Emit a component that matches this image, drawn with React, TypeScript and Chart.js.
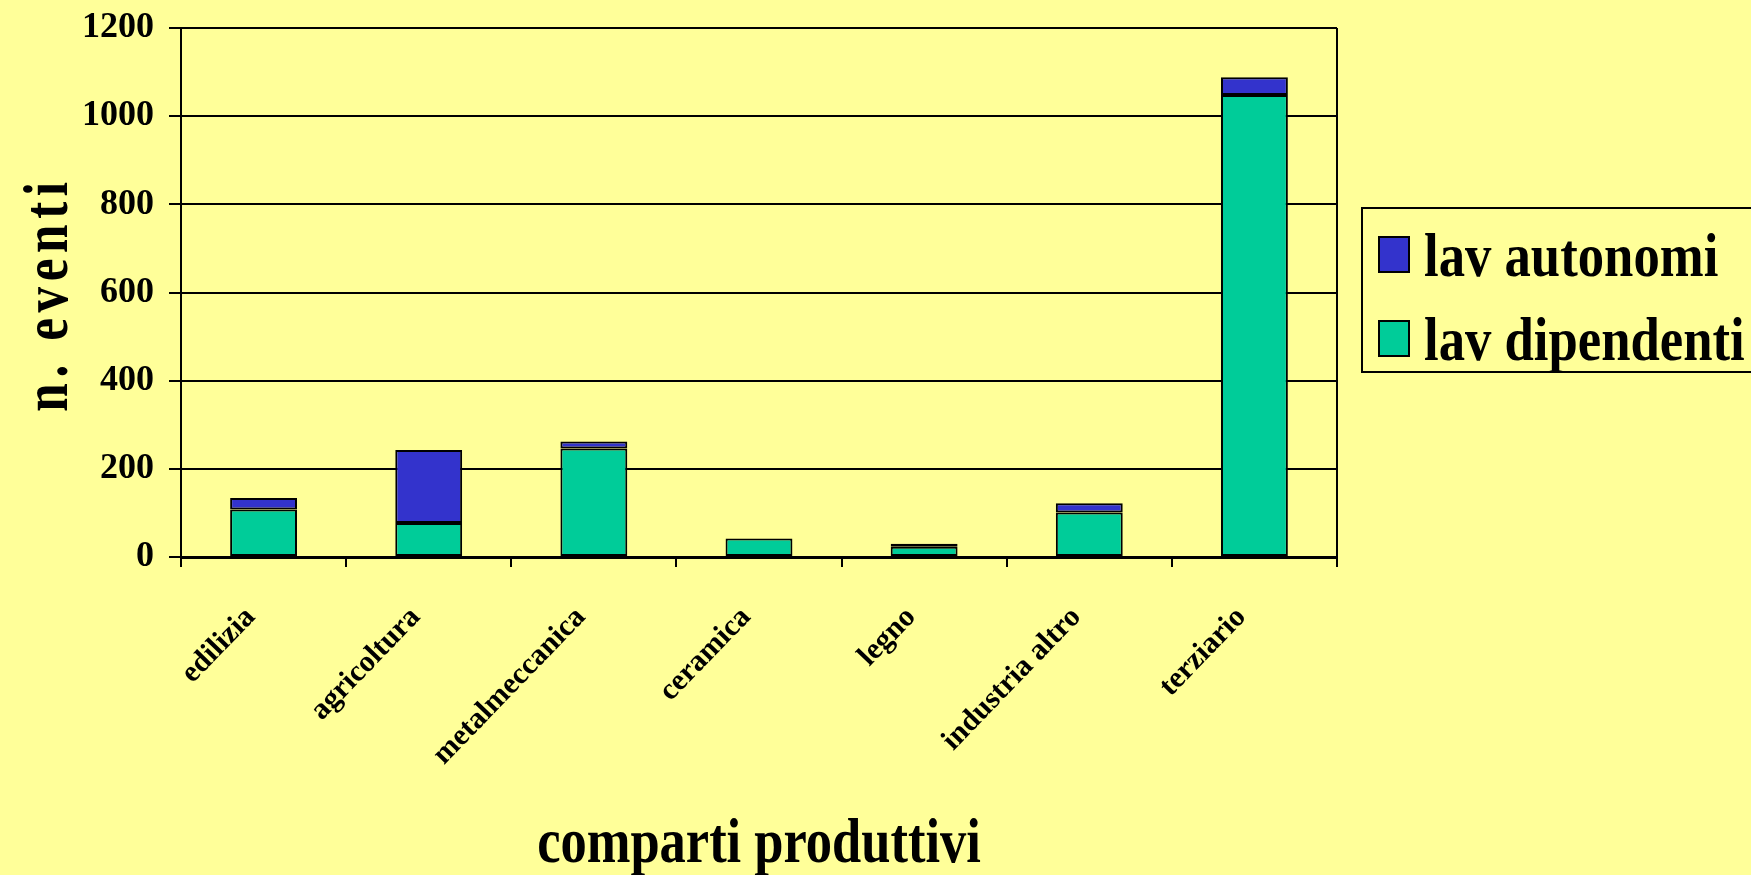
import React, { useEffect, useRef } from "react";
import { Chart, registerables } from "chart.js";

Chart.register(...registerables);

const categories = ["edilizia", "agricoltura", "metalmeccanica", "ceramica", "legno", "industria altro", "terziario"];
const lavDipendenti = [108, 77, 246, 42, 23, 101, 1048];
const lavAutonomi = [26, 166, 16, 0, 7, 21, 40];
const seriesNames = ["lav dipendenti", "lav autonomi"];
const yTicks = [0, 200, 400, 600, 800, 1000, 1200];
const xTitle = "comparti produttivi";
const yTitle = "n. eventi";

const FONT = '"Liberation Serif", "Times New Roman", serif';

const decorPlugin = {
  id: "decor",
  beforeDraw(chart: any) {
    const ctx = chart.ctx;
    ctx.save();
    ctx.fillStyle = "#FFFF99";
    ctx.fillRect(0, 0, chart.width, chart.height);
    ctx.restore();
  },
  afterDraw(chart: any) {
    const ctx = chart.ctx;
    const area = chart.chartArea;
    ctx.save();
    // right border of plot
    ctx.strokeStyle = "#000";
    ctx.lineWidth = 2;
    ctx.beginPath();
    ctx.moveTo(area.right, area.top);
    ctx.lineTo(area.right, area.bottom + 10);
    ctx.stroke();

    ctx.fillStyle = "#000";
    ctx.font = `bold 64px ${FONT}`;
    ctx.textBaseline = "alphabetic";
    ctx.textAlign = "center";
    // x title
    ctx.save();
    ctx.translate((area.left + area.right) / 2, 862);
    ctx.scale(0.82, 1);
    ctx.fillText(xTitle, 0, 0);
    ctx.restore();
    // y title
    ctx.save();
    ctx.translate(67, 294);
    ctx.rotate(-Math.PI / 2);
    ctx.scale(0.8, 1);
    try { (ctx as any).letterSpacing = "7px"; } catch (e) {}
    ctx.fillText(yTitle, 0, 0);
    ctx.restore();

    // legend
    ctx.lineWidth = 2;
    ctx.strokeStyle = "#000";
    ctx.strokeRect(1362, 208, 420, 164);
    const ds = chart.data.datasets.slice().reverse();
    ds.forEach((d: any, i: number) => {
      const y0 = 237 + i * 84;
      ctx.fillStyle = d.backgroundColor;
      ctx.fillRect(1379, y0, 30, 35);
      ctx.strokeRect(1379, y0, 30, 35);
      ctx.save();
      ctx.fillStyle = "#000";
      ctx.font = `bold 62px ${FONT}`;
      ctx.textAlign = "left";
      ctx.translate(1424, y0 + 39);
      ctx.scale(0.85, 1);
      ctx.fillText(d.label, 0, 0);
      ctx.restore();
    });
    ctx.restore();
  },
};

export default function App() {
  const ref = useRef<HTMLCanvasElement | null>(null);
  useEffect(() => {
    document.body.style.margin = "0";
    document.body.style.background = "#FFFF99";
    const canvas = ref.current!;
    const chart = new Chart(canvas, {
      type: "bar",
      data: {
        labels: categories,
        datasets: [
          {
            label: seriesNames[0],
            data: lavDipendenti,
            backgroundColor: "#00CC99",
            borderColor: "#000",
            borderWidth: 2,
            borderSkipped: false,
          },
          {
            label: seriesNames[1],
            data: lavAutonomi,
            backgroundColor: "#3333CC",
            borderColor: "#000",
            borderWidth: 2,
            borderSkipped: false,
          },
        ],
      },
      options: {
        responsive: false,
        animation: false,
        devicePixelRatio: 1,
        layout: { padding: { top: 28, right: 414, left: 0, bottom: 0 } },
        datasets: { bar: { categoryPercentage: 1, barPercentage: 0.405 } },
        plugins: { legend: { display: false }, tooltip: { enabled: false } },
        scales: {
          x: {
            stacked: true,
            grid: { drawOnChartArea: false, drawTicks: true, tickLength: 10, color: "#000", lineWidth: 2, offset: true },
            border: { display: true, color: "#000", width: 3 },
            ticks: {
              color: "#000",
              font: { family: FONT, size: 30, weight: "bold" },
              minRotation: 46,
              maxRotation: 46,
              padding: 33,
              labelOffset: -13,
              autoSkip: false,
            },
            afterFit(scale: any) {
              scale.height = 875 - 557;
            },
          },
          y: {
            stacked: true,
            min: 0,
            max: 1200,
            afterBuildTicks(scale: any) {
              scale.ticks = yTicks.map((v) => ({ value: v }));
            },
            grid: { color: "#000", lineWidth: 2, drawTicks: true, tickLength: 12 },
            border: { display: true, color: "#000", width: 2 },
            ticks: {
              color: "#000",
              font: { family: FONT, size: 36, weight: "bold" },
              padding: 15,
              callback: (v: any) => String(v),
            },
            afterFit(scale: any) {
              scale.width = 181;
              scale.paddingTop = 0;
              scale.paddingBottom = 0;
            },
          },
        },
      },
      plugins: [decorPlugin],
    } as any);
    return () => chart.destroy();
  }, []);
  return (
    <div style={{ width: 1751, height: 875, background: "#FFFF99" }}>
      <canvas ref={ref} width={1751} height={875} />
    </div>
  );
}
